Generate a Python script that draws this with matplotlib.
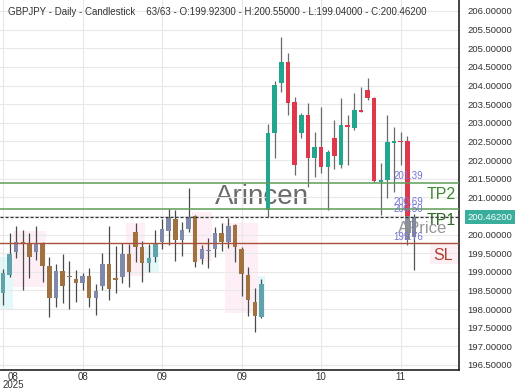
import numpy as np
import matplotlib
matplotlib.use('Agg')
import matplotlib.pyplot as plt
from matplotlib.patches import Rectangle
from matplotlib.ticker import FormatStrFormatter
from matplotlib.transforms import ScaledTranslation

plt.rcParams['font.family'] = ['Liberation Sans', 'DejaVu Sans']

# GBPJPY daily candles (63 bars)
opens = [198.43, 198.91, 199.53, 199.80, 199.77, 199.53, 199.77, 199.16, 198.30, 199.02,
         198.89, 198.81, 198.70, 198.89, 198.30, 198.62, 199.21, 198.83, 198.86, 199.48,
         200.07, 199.67, 199.24, 199.40, 199.80, 200.10, 200.42, 199.85, 200.15, 200.50,
         199.34, 199.55, 199.61, 200.04, 199.80, 200.26, 199.61, 198.91, 198.19, 197.79,
         200.66, 202.73, 204.07, 204.63, 203.56, 202.73, 203.21, 202.05, 202.35, 201.81,
         202.59, 201.87, 202.94, 202.86, 203.34, 203.88, 203.67, 201.41, 201.46, 202.46,
         202.50, 202.52, 199.923]
highs = [199.08, 200.04, 200.23, 200.12, 200.04, 200.23, 199.80, 199.40, 199.21, 199.48,
         199.29, 199.05, 198.97, 199.10, 198.67, 199.51, 200.23, 199.69, 199.77, 199.75,
         200.31, 199.83, 199.75, 200.12, 200.42, 200.69, 200.66, 200.34, 201.25, 200.53,
         199.72, 199.91, 200.20, 200.31, 200.44, 200.28, 199.67, 199.13, 198.57, 198.81,
         202.97, 204.12, 205.30, 204.87, 203.69, 203.26, 203.53, 202.75, 203.42, 202.27,
         203.07, 203.67, 203.21, 203.80, 203.96, 204.20, 203.70, 201.92, 203.21, 202.89,
         202.75, 202.65, 200.55]
lows = [198.11, 198.86, 199.37, 198.51, 198.83, 199.32, 198.73, 197.79, 198.06, 198.16,
        198.00, 198.19, 198.51, 198.06, 197.84, 198.51, 198.24, 198.43, 198.70, 198.59,
        199.26, 198.73, 199.00, 199.26, 199.61, 199.72, 199.29, 199.42, 200.07, 199.13,
        199.21, 199.10, 199.40, 199.56, 199.64, 199.26, 198.35, 197.81, 197.38, 197.76,
        200.47, 202.05, 203.83, 203.21, 201.60, 202.59, 201.28, 201.54, 201.65, 200.66,
        201.76, 201.79, 201.87, 202.81, 203.29, 203.61, 201.41, 200.53, 200.98, 201.14,
        201.87, 199.72, 199.04]
closes = [198.97, 199.48, 199.80, 199.78, 199.40, 199.77, 199.16, 198.30, 199.02, 198.62,
          198.86, 198.70, 198.89, 198.30, 198.49, 199.21, 198.54, 198.78, 199.48, 199.00,
          199.67, 199.24, 199.37, 199.77, 200.15, 200.44, 199.86, 200.12, 200.47, 199.26,
          199.61, 199.58, 200.04, 199.80, 200.23, 199.67, 198.94, 198.24, 197.81, 198.67,
          202.73, 204.01, 204.63, 203.53, 201.87, 203.21, 202.05, 202.35, 201.81, 202.22,
          202.11, 202.94, 202.89, 203.34, 203.30, 203.67, 201.43, 201.46, 202.48, 202.50,
          202.48, 199.85, 200.462]

tick_idx = [0, 12, 24, 36, 48, 60]
tick_labels = ['08\n2025', '08', '09', '09', '10', '11']

last_price = 200.462
tp2 = 201.39
tp1 = 200.69
entry = 200.50
sl = 199.76

# faint pattern zones behind the older bars: (first bar, last bar, low, high, kind)
zones = [(-0.5, 1.5, 198.0, 199.4, 'bull'),
         (1.5, 6.5, 198.6, 200.1, 'bear'),
         (18.5, 21.5, 198.9, 200.3, 'bear'),
         (21.5, 23.5, 199.0, 199.7, 'bull'),
         (28.5, 31.5, 199.3, 200.6, 'bear'),
         (33.5, 38.5, 197.9, 200.3, 'bear'),
         (38.5, 39.5, 197.8, 198.9, 'bull')]

fig = plt.figure(figsize=(5.2, 3.9), dpi=100)
ax = fig.add_axes([0, 20 / 390, 459 / 520, 1 - 20 / 390])
ax.set_xlim(-0.45, 68.8)
ax.set_ylim(196.365, 206.295)

# grid
ax.set_yticks(np.arange(196.5, 206.01, 0.5))
ax.set_xticks(tick_idx)
ax.grid(True, color='#e8e8e8', linewidth=0.8, zorder=0)
ax.yaxis.tick_right()
ax.yaxis.set_major_formatter(FormatStrFormatter('%.5f'))
ax.tick_params(axis='y', length=0, pad=6, labelsize=6.8, labelcolor='#333333')
ax.tick_params(axis='x', length=0, pad=1.5, labelsize=7, labelcolor='#333333')
ax.set_xticklabels(tick_labels, linespacing=0.75)
first = ax.get_xticklabels()[0]
first.set_transform(first.get_transform() + ScaledTranslation(10 / 100, 0, fig.dpi_scale_trans))
for s in ['left', 'top']:
    ax.spines[s].set_visible(False)
for s in ['right', 'bottom']:
    ax.spines[s].set_color('#222222')
    ax.spines[s].set_linewidth(1.2)

for x0, x1, lo, hi, kind in zones:
    fc = '#e3f8f8' if kind == 'bull' else '#fdeff5'
    ax.add_patch(Rectangle((x0, lo), x1 - x0, hi - lo, facecolor=fc,
                           edgecolor='none', zorder=0.5))
# pink patch around the SL label
ax.add_patch(Rectangle((64.5, 199.2), 4.3, sl - 199.2, facecolor='#fdf0f5',
                       edgecolor='none', zorder=0.5))

# watermark
ax.text(39, 201.0, 'Arincen', fontsize=20, color='#6a6a6a', ha='center',
        va='center', zorder=1)

# candles
w = 0.68
for i, (o, h, l, c) in enumerate(zip(opens, highs, lows, closes)):
    up = c >= o
    if i < 40:
        in_cyan = any(z[0] <= i <= z[1] and z[4] == 'bull' for z in zones)
        if up:
            col = '#62a2ab' if in_cyan else '#7f89aa'
        else:
            col = '#a07240'
        wick = '#4a4a4a'
    elif i == len(opens) - 1:
        col = '#7d879e'
        wick = '#555555'
    else:
        col = '#22a68e' if up else '#e0384b'
        wick = '#6a6a6a'
    ax.vlines(i, l, h, color=wick, linewidth=0.9, zorder=2)
    lo, hi = min(o, c), max(o, c)
    ax.add_patch(Rectangle((i - w / 2, lo), w, max(hi - lo, 0.03), facecolor=col,
                           edgecolor='none', zorder=3))

# greyed lower part of the big red bar
ax.add_patch(Rectangle((61 - w / 2, closes[61]), w, entry - closes[61],
                       facecolor='#8c8f9c', edgecolor='none', zorder=3.1))

# level lines
ax.axhline(tp2, color='#5e9e56', linewidth=1.1, zorder=4)
ax.axhline(tp1, color='#5e9e56', linewidth=1.1, zorder=4)
ax.axhline(sl, color='#a9503a', linewidth=1.0, zorder=4)
ax.axhline(last_price, color='#333333', linewidth=0.9, linestyle=(0, (2.5, 1.5)), zorder=4)

lbl = dict(fontsize=7, color='#7474d4', ha='left', va='bottom', zorder=5)
ax.annotate(f'{tp2:.2f}', (58.9, tp2), xytext=(0, 1), textcoords='offset points', **lbl)
ax.annotate(f'{tp1:.2f}', (58.9, tp1), xytext=(0, 1), textcoords='offset points', **lbl)
ax.annotate(f'{entry:.2f}', (58.9, entry), xytext=(0, 1.5), textcoords='offset points', **lbl)
ax.annotate(f'{sl:.2f}', (58.9, sl), xytext=(0, 1), textcoords='offset points', **lbl)

ax.annotate('TP2', (68.3, tp2), xytext=(0, -3), textcoords='offset points',
            fontsize=11.5, color='#3b8a2e', ha='right', va='top', zorder=5)
ax.annotate('TP1', (68.3, tp1), xytext=(0, -3), textcoords='offset points',
            fontsize=11.5, color='#2f6b24', ha='right', va='top', zorder=5)
ax.annotate('APrice', (59.6, entry), xytext=(0, -4), textcoords='offset points',
            fontsize=12, color='#8a8a8a', ha='left', va='top', zorder=5, alpha=0.9)
ax.annotate('SL', (68.3, sl), xytext=(-2, -3), textcoords='offset points',
            fontsize=11.5, color='#b0402e', ha='right', va='top', zorder=5)

# last price box on the axis
ax.annotate(f'{last_price:.5f}', (1, last_price), xycoords=('axes fraction', 'data'),
            xytext=(6, 0), textcoords='offset points', fontsize=6.8, color='white',
            ha='left', va='center', annotation_clip=False,
            bbox=dict(boxstyle='square,pad=0.25', facecolor='#3aae9c', edgecolor='none'))

fig.text(8 / 520, 1 - 12 / 390,
         f'GBPJPY - Daily - Candlestick    63/63 - O:{opens[-1]:.5f} - H:{highs[-1]:.5f}'
         f' - L:{lows[-1]:.5f} - C:{closes[-1]:.5f}',
         fontsize=7, color='#333333', va='center', ha='left')

fig.savefig('out.png', dpi=100)
